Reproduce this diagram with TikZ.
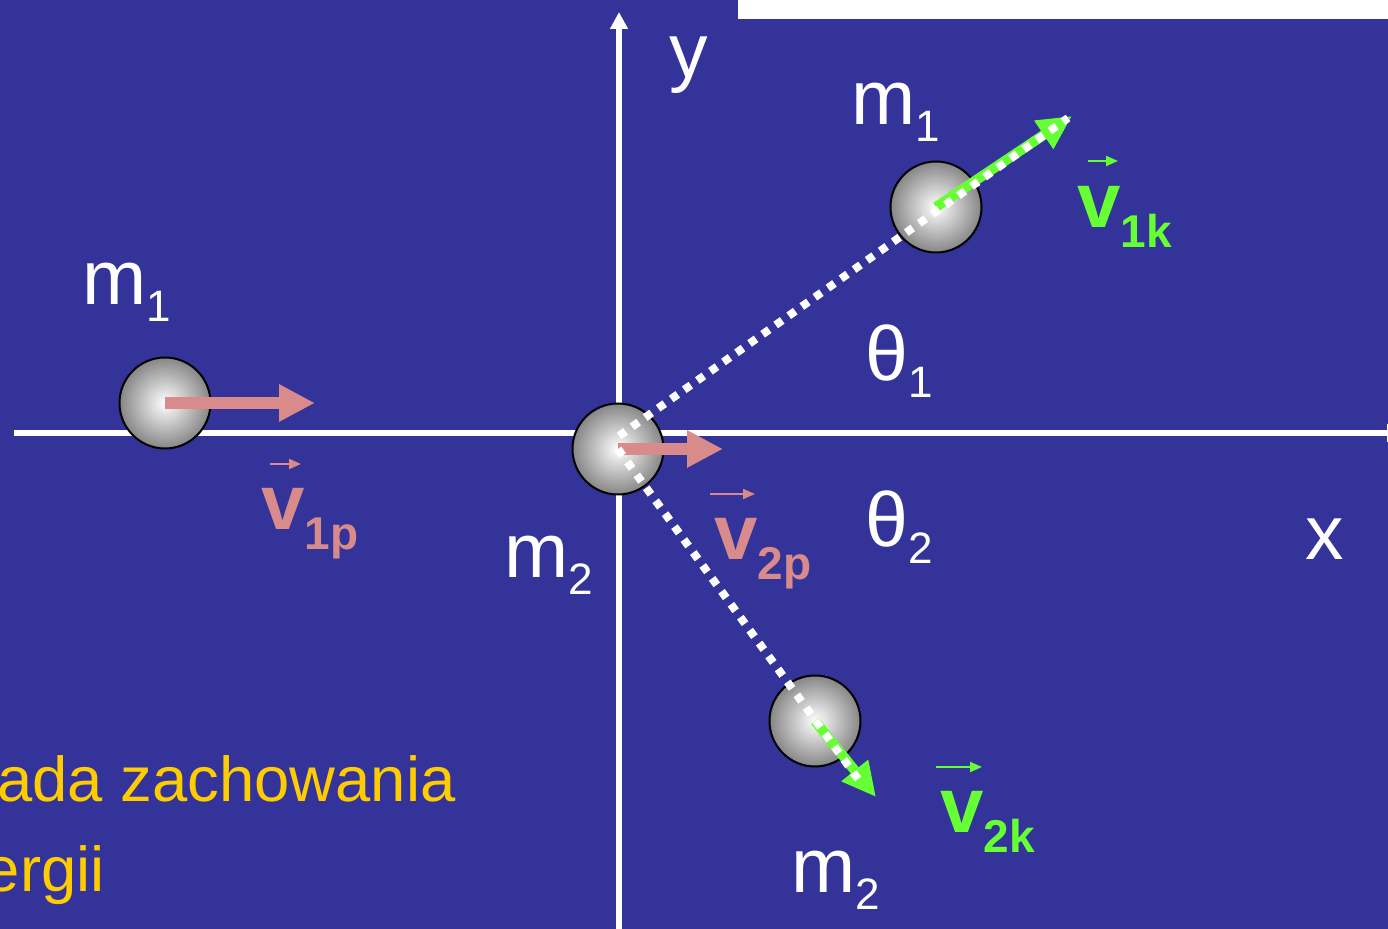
\documentclass[tikz,border=0pt]{standalone}
\usepackage{fontspec}
\setmainfont{Liberation Sans}
\usetikzlibrary{arrows.meta}
\definecolor{SlideBlue}{HTML}{333399}
\definecolor{BeforePink}{HTML}{D98A8A}
\definecolor{AfterGreen}{HTML}{66FF33}
\definecolor{NoteYellow}{HTML}{FFCC00}
\newcommand{\msub}[2]{#1\raisebox{-8.5pt}{\fontsize{22}{22}\selectfont #2}}
\newcommand{\vsub}[2]{#1\raisebox{-10pt}{\fontsize{23}{23}\selectfont\bfseries #2}}

\begin{document}
\begin{tikzpicture}[x=0.5pt, y=-0.5pt,
    ball/.style={circle,draw=black,line width=1pt,minimum size=45.5pt,inner sep=0pt,inner color=white,outer color=gray!95},
    axisline/.style={white,line width=2.8pt,-{Triangle[length=8.5pt,width=8.5pt]}},
    fatpink/.style={BeforePink,line width=6pt,-{Triangle[length=18pt,width=17.5pt]}},
    fatgreen/.style={AfterGreen,line width=5pt,-{Triangle[length=17pt,width=16pt]}},
    track/.style={white,line width=4pt,dash pattern=on 4pt off 4pt},
    vecarrow/.style={line width=1pt,-{Triangle[length=6pt,width=5pt]}},
    txt/.style={white,anchor=base west,inner sep=0pt,font=\fontsize{38.5}{38.5}\selectfont},
    vtxt/.style={anchor=base west,inner sep=0pt,font=\fontsize{39}{39}\selectfont\bfseries},
    note/.style={NoteYellow,anchor=base east,inner sep=0pt,font=\fontsize{31.7}{36}\selectfont}]
    \useasboundingbox (0,0) rectangle (1388,929);
    \fill[SlideBlue] (0,0) rectangle (1388,929);
    \clip (0,0) rectangle (1388,929);
    \fill[white] (738,0) rectangle (1388,19);

    \coordinate (xl) at (14,433);
    \coordinate (xr) at (1404,433);
    \coordinate (yb) at (619,935);
    \coordinate (yt) at (619,12);
    \draw[axisline] (xl) -- (xr);
    \draw[axisline] (yb) -- (yt);

    \node[ball] (m1p) at (165,403) {};
    \node[ball] (m2p) at (618,449) {};
    \node[ball] (m1k) at (936,207) {};
    \node[ball] (m2k) at (815,721) {};

    \coordinate (v1ptip) at (315,403);
    \coordinate (v2ptip) at (723,449);
    \coordinate (v1ktip) at (1072,116);
    \coordinate (v2ktip) at (876,797);
    \draw[fatpink] (m1p.center) -- (v1ptip);
    \draw[fatpink] (m2p.center) -- (v2ptip);
    \draw[fatgreen] (m1k.center) -- (v1ktip);
    \draw[fatgreen] (m2k.center) -- (v2ktip);

    \coordinate (hit) at (619,436);
    \coordinate (track1) at (1068,118);
    \coordinate (track2) at (858,779);
    \draw[track] (hit) -- (track1);
    \draw[track] (m2p.center) -- (track2);

    \node[txt] (ylab) at (669,78) {y};
    \node[txt] (xlab) at (1305,560) {x};
    \node[txt] (m1plab) at (82,305) {\msub{m}{1}};
    \node[txt] (m1klab) at (851,125) {\msub{m}{1}};
    \node[txt] (m2plab) at (504,578) {\msub{m}{2}};
    \node[txt] (m2klab) at (791,893) {\msub{m}{2}};
    \node[txt] (th1) at (865,381) {\msub{θ}{1}};
    \node[txt] (th2) at (865,547) {\msub{θ}{2}};

    \node[vtxt,BeforePink] (v1plab) at (261,530) {\vsub{v}{1p}};
    \node[vtxt,BeforePink] (v2plab) at (714,560) {\vsub{v}{2p}};
    \node[vtxt,AfterGreen] (v1klab) at (1077,228) {\vsub{v}{1k}};
    \node[vtxt,AfterGreen] (v2klab) at (940,833) {\vsub{v}{2k}};

    \coordinate (a1) at (270,464);  \coordinate (b1) at (301,464);
    \coordinate (a2) at (710,494);  \coordinate (b2) at (755,494);
    \coordinate (a3) at (1088,161); \coordinate (b3) at (1118,161);
    \coordinate (a4) at (936,767);  \coordinate (b4) at (982,767);
    \draw[vecarrow,BeforePink] (a1) -- (b1);
    \draw[vecarrow,BeforePink] (a2) -- (b2);
    \draw[vecarrow,AfterGreen] (a3) -- (b3);
    \draw[vecarrow,AfterGreen] (a4) -- (b4);

    \node[note] (law1) at (456,802) {Zasada zachowania};
    \node[note] (law2) at (105,892) {energii};
  \end{tikzpicture}
\end{document}
